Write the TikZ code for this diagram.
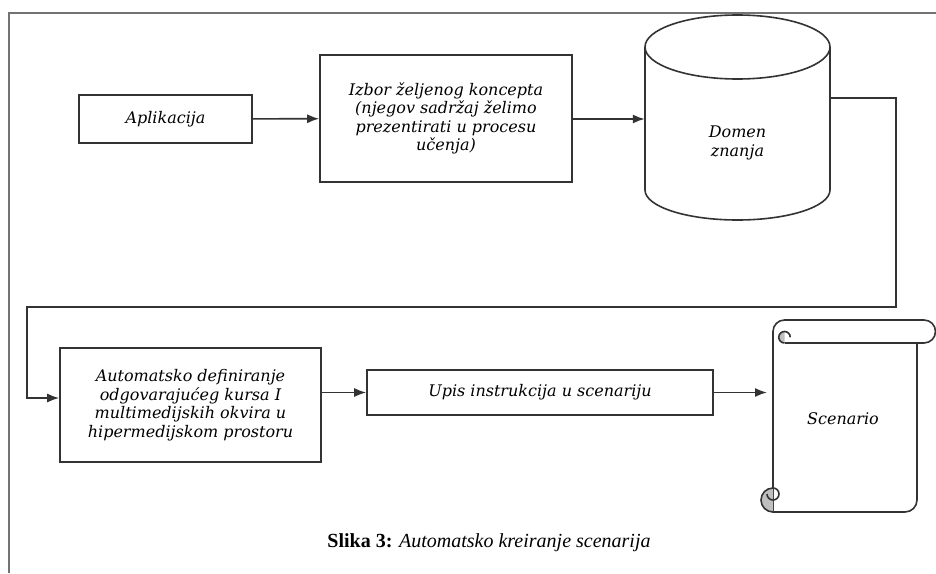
\documentclass[tikz,border=0pt]{standalone}
\usepackage{fontspec}
\setmainfont{Liberation Serif}
\newfontfamily\boxfont{DejaVu Serif}
\usetikzlibrary{arrows.meta,calc}

\tikzset{
  line/.style={draw=black!80, line width=1.6pt},
  boxtext/.style={align=center, inner sep=0pt,
    font=\boxfont\itshape\fontsize{16}{18.5}\selectfont},
  stepbox/.style={line, fill=white, boxtext},
  arr/.style={line, -{Latex[length=12pt,width=9pt]}},
  frame/.style={draw=black!55, line width=2pt},
}

\begin{document}
\begin{tikzpicture}[x=1pt,y=-1pt]
  \useasboundingbox (0,0) rectangle (936,573);

  % page frame (top and left edge)
  \draw[frame] (9,573) -- (9,13) -- (936,13);

  % process boxes
  \node[stepbox, minimum width=173, minimum height=48] (apl) at (165.5,119) {Aplikacija};
  \node[stepbox, minimum width=252, minimum height=127] (izbor) at (446,118.5)
    {Izbor željenog koncepta\\(njegov sadržaj želimo\\prezentirati u procesu\\učenja)};
  \node[stepbox, minimum width=261, minimum height=114] (auto) at (190.5,405)
    {Automatsko definiranje\\odgovarajućeg kursa I\\multimedijskih okvira u\\hipermedijskom prostoru};
  \node[stepbox, minimum width=346, minimum height=45] (upis) at (540,392.5)
    {Upis instrukcija u scenariju};

  % knowledge base cylinder
  \path[line, fill=white] (645,47) -- (645,190)
    arc[start angle=180, end angle=0, x radius=92.5, y radius=30] -- (830,47);
  \draw[line, fill=white] (737.5,47) ellipse[x radius=92.5, y radius=32];
  \node[draw=none, minimum width=185, minimum height=143] (dom) at (737.5,118.5) {};
  \node[boxtext] (domtxt) at (737.5,143) {Domen\\znanja};

  % scroll
  \path[line, fill=white]
    (773,331.5) arc[start angle=180, end angle=270, radius=11.5]
    -- (924,320) arc[start angle=270, end angle=450, radius=11.5]
    -- (917,343) -- (917,500)
    arc[start angle=0, end angle=90, radius=12] -- (773,512)
    -- cycle;
  \draw[line] (784.5,343) -- (917,343);
  \fill[black!25] (784.5,331.5) arc[start angle=270, end angle=90, radius=5.75] -- cycle;
  \draw[line] (784.5,343) arc[start angle=90, end angle=270, radius=5.75]
    arc[start angle=270, end angle=360, radius=5.75];
  \fill[black!25] (773,488) arc[start angle=270, end angle=90, radius=12] -- cycle;
  \draw[line] (773,488) arc[start angle=270, end angle=90, radius=12];
  \draw[line] (773,488) arc[start angle=270, end angle=450, radius=6]
    arc[start angle=90, end angle=180, radius=6];
  \node[boxtext] (scen) at (843,419) {Scenario};

  % connectors
  \draw[arr] (apl) -- (izbor);
  \draw[arr] (izbor.east |- apl) -- (dom.west |- apl);
  \draw[arr] (dom.east |- 0,98) -- (896,98) -- (896,307) -- (27,307)
    -- (27,398) -- ([yshift=7pt]auto.west);
  \draw[arr] (auto.east |- upis) -- (upis.west);
  \draw[arr] (upis.east) -- (upis.east -| 767,0);

  % caption
  \node[font=\fontsize{20}{23}\selectfont, inner sep=0pt] (cap) at (489,543)
    {\textbf{Slika 3:} \textit{Automatsko kreiranje scenarija}};
\end{tikzpicture}
\end{document}
